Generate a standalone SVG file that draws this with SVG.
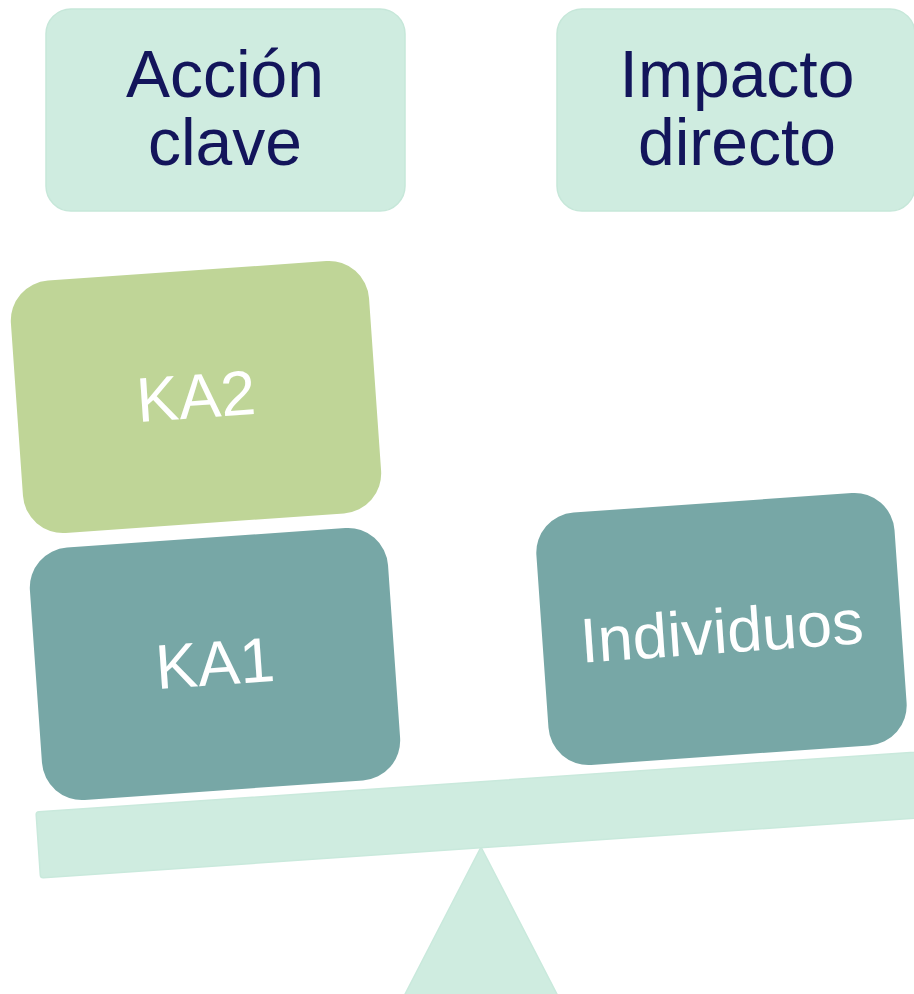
<svg xmlns="http://www.w3.org/2000/svg" width="914" height="994" viewBox="0 0 914 994">
<style>
.hdr{fill:#cfece0;stroke:#c6e7d9;stroke-width:1.5}
.htxt{font-family:"Liberation Sans",Arial,sans-serif;font-size:66px;fill:#13155b;text-anchor:middle}
.teal{fill:#77a7a6}
.green{fill:#bfd597}
.btxt{font-family:"Liberation Sans",Arial,sans-serif;font-size:63px;fill:#ffffff;text-anchor:middle}
.mint{fill:#cfece0;stroke:#c9e9dc;stroke-width:1.5;stroke-linejoin:round}
</style>
<rect width="914" height="994" fill="#ffffff"/>
<g id="header-accion">
<rect class="hdr" x="46" y="9" width="359" height="202" rx="25"/>
<text class="htxt" x="225" y="97">Acción</text>
<text class="htxt" x="225" y="165">clave</text>
</g>
<g id="header-impacto">
<rect class="hdr" x="557" y="9" width="358" height="202" rx="25"/>
<text class="htxt" x="737" y="97">Impacto</text>
<text class="htxt" x="737" y="165">directo</text>
</g>
<g id="fulcrum">
<polygon class="mint" points="481,847 402,1000 560,1000"/>
</g>
<g id="beam">
<rect class="mint" transform="translate(36,812) rotate(-3.9)" x="0" y="0" width="930" height="66" rx="3"/>
</g>
<g id="ka2" transform="translate(196,397) rotate(-4)">
<rect class="green" x="-179.5" y="-126.5" width="359" height="253" rx="40"/>
<text class="btxt" x="0" y="21">KA2</text>
</g>
<g id="ka1" transform="translate(215,664) rotate(-4)">
<rect class="teal" x="-179.5" y="-126.5" width="359" height="253" rx="40"/>
<text class="btxt" x="0" y="21">KA1</text>
</g>
<g id="individuos" transform="translate(721.5,629) rotate(-4)">
<rect class="teal" x="-179.5" y="-126.5" width="359" height="253" rx="40"/>
<text class="btxt" x="0" y="24">Individuos</text>
</g>
<g id="connectors"></g>
</svg>
